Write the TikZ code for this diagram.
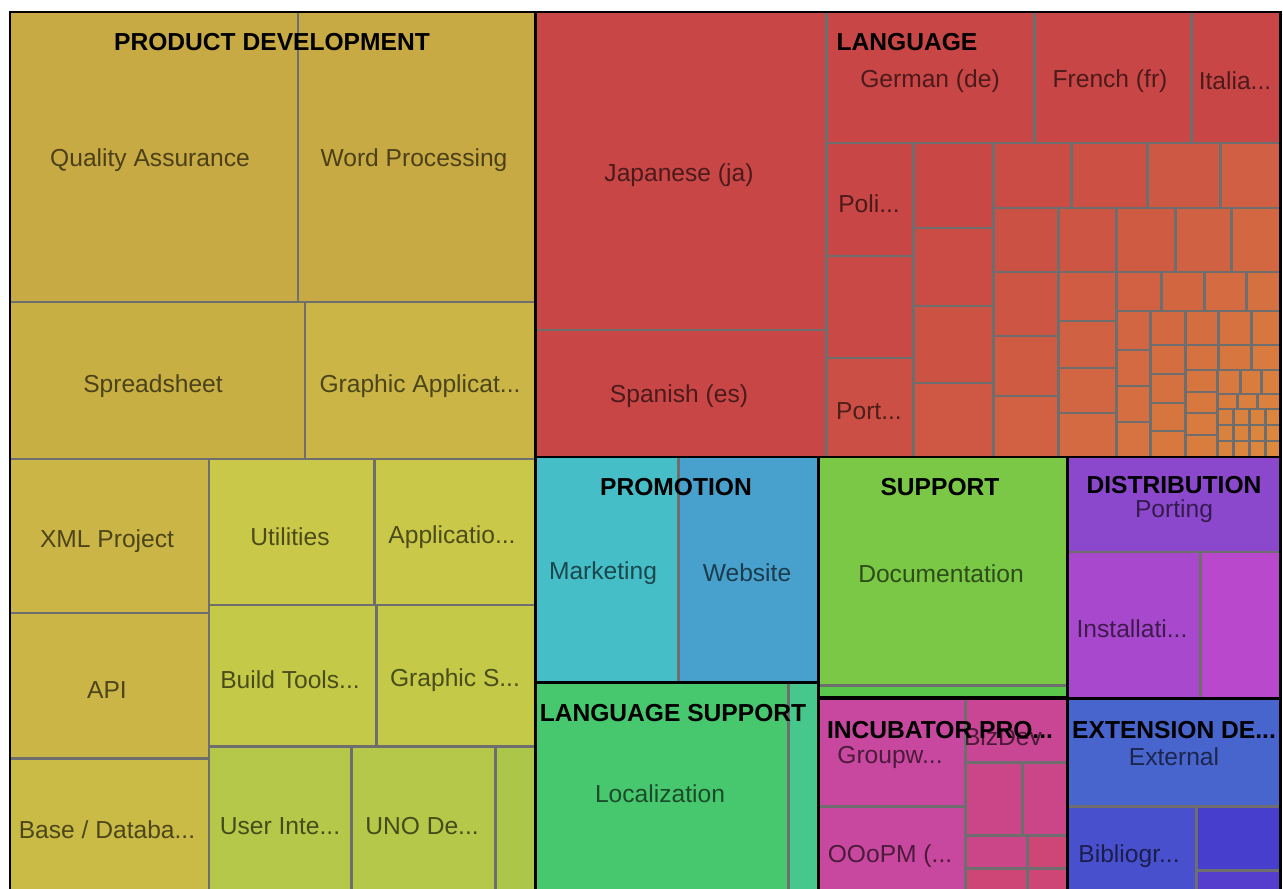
\documentclass[tikz,border=0pt]{standalone}
\usepackage{fontspec}
\setmainfont{Liberation Sans}
\definecolor{sep}{RGB}{110,110,110}
\definecolor{pdA}{RGB}{200,170,68}
\definecolor{pdB}{RGB}{200,175,68}
\definecolor{pdC}{RGB}{202,181,70}
\definecolor{pdD}{RGB}{202,187,70}
\definecolor{pdE}{RGB}{202,200,72}
\definecolor{pdF}{RGB}{196,202,72}
\definecolor{pdG}{RGB}{182,200,74}
\definecolor{pdH}{RGB}{172,198,74}
\definecolor{langA}{RGB}{200,70,70}
\definecolor{langB}{RGB}{222,140,60}
\definecolor{mkt}{RGB}{70,190,200}
\definecolor{web}{RGB}{72,160,205}
\definecolor{lsA}{RGB}{72,200,110}
\definecolor{lsB}{RGB}{70,200,140}
\definecolor{supA}{RGB}{122,200,70}
\definecolor{supB}{RGB}{90,200,75}
\definecolor{distA}{RGB}{140,72,205}
\definecolor{distB}{RGB}{168,72,205}
\definecolor{distC}{RGB}{185,72,205}
\definecolor{incA}{RGB}{200,72,160}
\definecolor{incB}{RGB}{200,70,148}
\definecolor{incC}{RGB}{202,70,136}
\definecolor{incD}{RGB}{205,70,118}
\definecolor{extA}{RGB}{72,100,205}
\definecolor{extB}{RGB}{72,80,205}
\definecolor{extC}{RGB}{72,62,205}
\definecolor{extD}{RGB}{85,62,205}
\begin{document}
\begin{tikzpicture}[x=0.02cm,y=-0.02cm,
		leaf/.style={draw=sep,line width=1.7pt},
		grp/.style={draw=black,line width=1.7pt},
		lbl/.style={font=\fontsize{14}{16}\selectfont,text=black,text opacity=0.62,inner sep=0pt},
		hdr/.style={font=\fontsize{14}{16}\selectfont\bfseries,text=black,inner sep=0pt}]
		\useasboundingbox (0,0) rectangle (1283,888);
		\clip (0,0) rectangle (1283,888);
		\filldraw[leaf,fill=pdA] (10,12) rectangle (298,302);
		\filldraw[leaf,fill=pdA] (298,12) rectangle (535,302);
		\filldraw[leaf,fill=pdB] (10,302) rectangle (305,459);
		\filldraw[leaf,fill=pdC] (305,302) rectangle (535,459);
		\filldraw[leaf,fill=pdC] (10,459) rectangle (209,613);
		\filldraw[leaf,fill=pdC] (10,613) rectangle (209,758);
		\filldraw[leaf,fill=pdD] (10,758) rectangle (209,905);
		\filldraw[leaf,fill=pdE] (209,459) rectangle (374,605);
		\filldraw[leaf,fill=pdE] (374,459) rectangle (535,605);
		\filldraw[leaf,fill=pdF] (209,605) rectangle (376,746);
		\filldraw[leaf,fill=pdF] (376,605) rectangle (535,746);
		\filldraw[leaf,fill=pdG] (209,746) rectangle (351,905);
		\filldraw[leaf,fill=pdG] (351,746) rectangle (495,905);
		\filldraw[leaf,fill=pdH] (495,746) rectangle (535,905);
		\filldraw[leaf,fill=langA] (535,12) rectangle (826,330);
		\filldraw[leaf,fill=langA] (535,330) rectangle (826,457);
		\filldraw[leaf,fill=langA] (826,12) rectangle (1034,143);
		\filldraw[leaf,fill=langA] (1034,12) rectangle (1191,143);
		\filldraw[leaf,fill=langA] (1191,12) rectangle (1280,143);
		\foreach \a/\b/\c/\d in {826/143/913/256, 826/256/913/358, 826/358/913/457,
				913/143/993/228, 913/228/993/306, 913/306/993/383, 913/383/993/457,
				993/143/1071/208, 1071/143/1147/208, 1147/143/1220/208, 1220/143/1280/208,
				993/208/1058/272, 1058/208/1116/272, 1116/208/1175/272, 1175/208/1231/272, 1231/208/1280/272,
				993/272/1058/336, 993/336/1058/396, 993/396/1058/457,
				1058/272/1116/321, 1058/321/1116/368, 1058/368/1116/413, 1058/413/1116/457,
				1116/272/1161/311, 1161/272/1204/311, 1204/272/1246/311, 1246/272/1280/311,
				1116/311/1150/350, 1116/350/1150/386, 1116/386/1150/422, 1116/422/1150/457,
				1150/311/1185/345, 1185/311/1218/345, 1218/311/1251/345, 1251/311/1280/345,
				1150/345/1185/374, 1150/374/1185/403, 1150/403/1185/431, 1150/431/1185/457,
				1185/345/1218/370, 1218/345/1251/370, 1251/345/1280/370,
				1185/370/1217/392, 1185/392/1217/413, 1185/413/1217/435, 1185/435/1217/457,
				1217/370/1240/394, 1240/370/1261/394, 1261/370/1280/394,
				1217/394/1237/409, 1237/394/1257/409, 1257/394/1280/409,
				1217/409/1233/425, 1217/425/1233/441, 1217/441/1233/457,
				1233/409/1249/425, 1249/409/1265/425, 1265/409/1280/425,
				1233/425/1249/441, 1249/425/1265/441, 1265/425/1280/441,
				1233/441/1249/457, 1249/441/1265/457, 1265/441/1280/457}{
			\pgfmathtruncatemacro\t{min(100,100*(((\a-826)+(\b-143))/750)^1.6)}
			\filldraw[leaf,fill=langB!\t!langA] (\a,\b) rectangle (\c,\d);
		}
		\filldraw[leaf,fill=mkt] (535,457) rectangle (678,682);
		\filldraw[leaf,fill=web] (678,457) rectangle (818,682);
		\filldraw[leaf,fill=lsA] (535,682) rectangle (788,905);
		\filldraw[leaf,fill=lsB] (788,682) rectangle (818,905);
		\filldraw[leaf,fill=supA] (818,457) rectangle (1067,685);
		\filldraw[leaf,fill=supB] (818,685) rectangle (1067,697);
		\filldraw[leaf,fill=distA] (1067,457) rectangle (1280,552);
		\filldraw[leaf,fill=distB] (1067,552) rectangle (1200,698);
		\filldraw[leaf,fill=distC] (1200,552) rectangle (1280,698);
		\filldraw[leaf,fill=incA] (818,698) rectangle (965,806);
		\filldraw[leaf,fill=incA] (818,806) rectangle (965,905);
		\filldraw[leaf,fill=incB] (965,698) rectangle (1067,762);
		\filldraw[leaf,fill=incC] (965,762) rectangle (1022,835);
		\filldraw[leaf,fill=incC] (1022,762) rectangle (1067,835);
		\filldraw[leaf,fill=incC] (965,835) rectangle (1027,868);
		\filldraw[leaf,fill=incD] (1027,835) rectangle (1067,868);
		\filldraw[leaf,fill=incD] (965,868) rectangle (1027,905);
		\filldraw[leaf,fill=incD] (1027,868) rectangle (1067,905);
		\filldraw[leaf,fill=extA] (1067,698) rectangle (1280,806);
		\filldraw[leaf,fill=extB] (1067,806) rectangle (1196,905);
		\filldraw[leaf,fill=extC] (1196,806) rectangle (1280,870);
		\filldraw[leaf,fill=extD] (1196,870) rectangle (1280,905);
		\draw[grp] (10,12) rectangle (535,905);
		\draw[grp] (535,12) rectangle (1280,457);
		\draw[grp] (535,457) rectangle (818,682);
		\draw[grp] (535,682) rectangle (818,905);
		\draw[grp] (818,457) rectangle (1067,697);
		\draw[grp] (1067,457) rectangle (1280,698);
		\draw[grp] (818,698) rectangle (1067,905);
		\draw[grp] (1067,698) rectangle (1280,905);
		\node[hdr] (pdhead) at (272,42) {PRODUCT DEVELOPMENT};
		\node[lbl] (qa) at (150,160) {Quality Assurance};
		\node[lbl] (wp) at (414,160) {Word Processing};
		\node[lbl] (ss) at (153,386) {Spreadsheet};
		\node[lbl] (ga) at (420,386) {Graphic Applicat...};
		\node[lbl] (xml) at (107,541) {XML Project};
		\node[lbl] (util) at (290,537) {Utilities};
		\node[lbl] (appl) at (452,537) {Applicatio...};
		\node[lbl] (api) at (107,690) {API};
		\node[lbl] (build) at (290,680) {Build Tools...};
		\node[lbl] (gs) at (455,680) {Graphic S...};
		\node[lbl] (base) at (107,830) {Base / Databa...};
		\node[lbl] (ui) at (280,826) {User Inte...};
		\node[lbl] (uno) at (422,826) {UNO De...};
		\node[hdr] (langhead) at (907,42) {LANGUAGE};
		\node[lbl] (ja) at (679,175) {Japanese (ja)};
		\node[lbl] (es) at (679,396) {Spanish (es)};
		\node[lbl] (de) at (930,81) {German (de)};
		\node[lbl] (fr) at (1110,81) {French (fr)};
		\node[lbl] (it) at (1235,81) {Italia...};
		\node[lbl] (pl) at (869,204) {Poli...};
		\node[lbl] (pt) at (869,411) {Port...};
		\node[hdr] (promohead) at (676,487) {PROMOTION};
		\node[lbl] (mkt) at (603,573) {Marketing};
		\node[lbl] (web) at (747,573) {Website};
		\node[hdr] (lshead) at (673,713) {LANGUAGE SUPPORT};
		\node[lbl] (l10n) at (660,794) {Localization};
		\node[hdr] (suphead) at (940,487) {SUPPORT};
		\node[lbl] (doc) at (941,574) {Documentation};
		\node[hdr] (disthead) at (1174,485) {DISTRIBUTION};
		\node[lbl] (port) at (1174,511) {Porting};
		\node[lbl] (inst) at (1132,629) {Installati...};
		\node[lbl] (bizdev) at (1003,737) {BizDev};
		\node[hdr] (incuhead) at (940,730) {INCUBATOR PRO...};
		\node[lbl] (groupw) at (890,757) {Groupw...};
		\node[lbl] (ooopm) at (890,856) {OOoPM (...};
		\node[hdr] (exthead) at (1174,730) {EXTENSION DE...};
		\node[lbl] (ext) at (1174,757) {External};
		\node[lbl] (biblio) at (1129,856) {Bibliogr...};
	\end{tikzpicture}
\end{document}
